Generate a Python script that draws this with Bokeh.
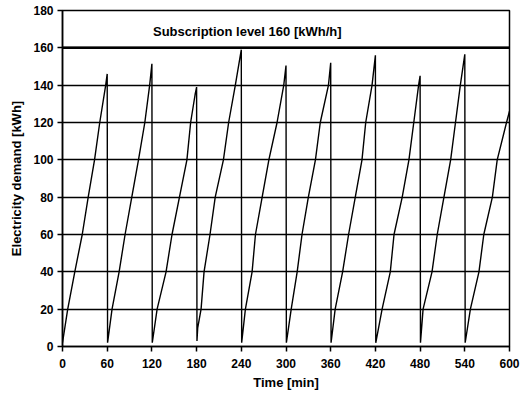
from bokeh.plotting import figure
from bokeh.models import Range1d, FixedTicker, Span, Label
from bokeh.embed import file_html
from bokeh.resources import INLINE

# --- data ---
time_min = [
    0, 7, 16.5, 26.5, 34.5, 43, 50, 58, 60,
    60.5, 66.5, 76, 84, 93, 102, 110.5, 117, 120,
    120.5, 127, 139, 147, 157, 167, 172, 178, 180,
    180.5, 181.5, 186, 190, 198, 205, 216, 223, 232, 240,
    240.5, 245.5, 254.5, 259, 268, 277, 288, 297, 300,
    300.5, 307, 315, 321.5, 330, 339.5, 346, 357, 360,
    360.5, 366, 376, 384, 393, 402, 407, 415.5, 420,
    420.5, 429, 440, 445, 456, 465, 471.5, 478, 480,
    480.5, 484, 496, 503, 512, 521, 527.5, 534, 540,
    540.5, 547.5, 559, 565.5, 577, 583.5, 596, 600,
]
demand_kwh = [
    2, 20, 40, 60, 80, 100, 120, 140, 146,
    2, 20, 40, 60, 80, 100, 120, 140, 151.5,
    2, 20, 40, 60, 80, 100, 120, 135, 139,
    3, 10, 20, 40, 60, 80, 100, 120, 140, 159,
    2, 20, 40, 60, 80, 100, 120, 140, 150.5,
    2, 20, 40, 60, 80, 100, 120, 140, 152,
    2, 20, 40, 60, 80, 100, 120, 140, 156,
    2, 20, 40, 60, 80, 100, 120, 140, 145,
    2, 20, 40, 60, 80, 100, 120, 140, 156.5,
    2, 20, 40, 60, 80, 100, 120, 126,
]
x_ticks = [0, 60, 120, 180, 240, 300, 360, 420, 480, 540, 600]
y_ticks = [0, 20, 40, 60, 80, 100, 120, 140, 160, 180]
subscription_level = 160
subscription_text = "Subscription level 160 [kWh/h]"

FONT = "Liberation Sans"

p = figure(width=521, height=396, output_backend="svg", toolbar_location=None,
           x_range=Range1d(0, 600), y_range=Range1d(0, 180),
           min_border_left=62, min_border_right=12, min_border_top=10, min_border_bottom=50)
p.background_fill_color = "white"
p.border_fill_color = "white"
p.outline_line_color = "black"
p.outline_line_width = 1.5

p.xaxis.ticker = FixedTicker(ticks=x_ticks)
p.yaxis.ticker = FixedTicker(ticks=y_ticks)
for ax in (p.xaxis[0], p.yaxis[0]):
    ax.axis_line_color = "black"
    ax.axis_line_width = 1.5
    ax.major_tick_line_color = "black"
    ax.major_tick_line_width = 1.5
    ax.major_tick_in = 0
    ax.major_tick_out = 5
    ax.minor_tick_line_color = None
    ax.major_label_text_font = FONT
    ax.major_label_text_font_style = "bold"
    ax.major_label_text_font_size = "12px"
    ax.major_label_text_color = "black"
    ax.axis_label_text_font = FONT
    ax.axis_label_text_font_style = "bold"
    ax.axis_label_text_font_size = "13px"
    ax.axis_label_text_color = "black"

p.xaxis.axis_label = "Time [min]"
p.yaxis.axis_label = "Electricity demand [kWh]"
p.xaxis.major_label_standoff = 7
p.xaxis.axis_label_standoff = 4
p.yaxis.major_label_standoff = 4
p.yaxis.axis_label_standoff = 6

p.xgrid.grid_line_color = None
p.ygrid.ticker = FixedTicker(ticks=y_ticks)
p.ygrid.grid_line_color = "black"
p.ygrid.grid_line_width = 1.5
p.ygrid.grid_line_alpha = 1.0

p.line(time_min, demand_kwh, line_color="black", line_width=1.4)

p.add_layout(Span(location=subscription_level, dimension="width",
                  line_color="black", line_width=2.5))
p.add_layout(Label(x=248, y=168.5, text=subscription_text,
                   text_align="center", text_baseline="middle",
                   text_font=FONT, text_font_style="bold",
                   text_font_size="13px", text_color="black"))

open("out.html", "w").write(file_html(p, INLINE))
